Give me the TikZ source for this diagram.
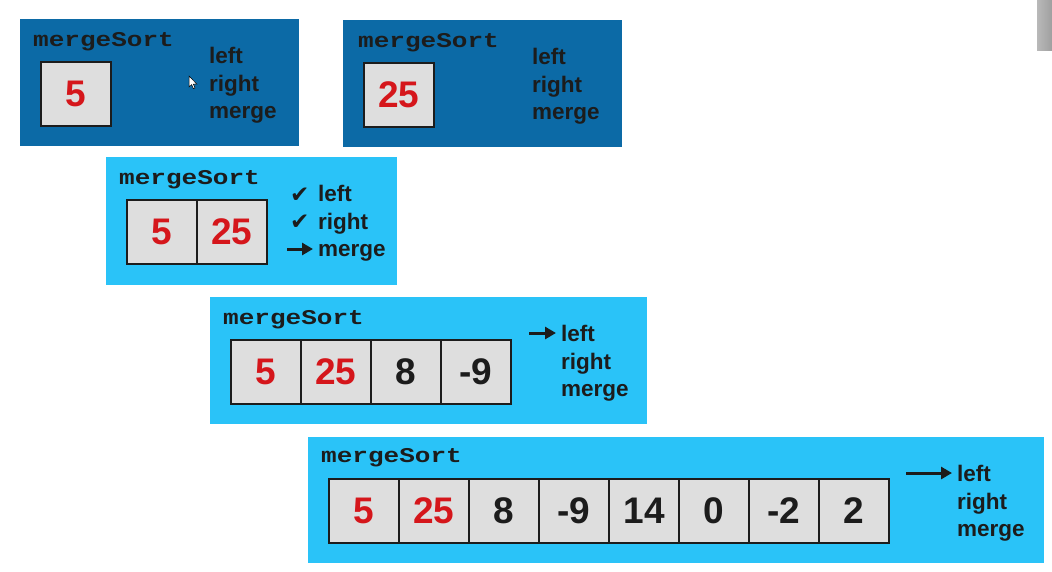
\documentclass[tikz,border=0pt]{standalone}
\usepackage{fontspec}
\setmainfont{Liberation Sans}
\newfontfamily\monof{Liberation Mono}
\newfontfamily\symf{DejaVu Sans}
\usetikzlibrary{arrows.meta}
\definecolor{dkblue}{HTML}{0C6AA6}
\definecolor{ltblue}{HTML}{2AC3F8}
\definecolor{cellgray}{HTML}{DEDEDE}
\definecolor{inkc}{HTML}{1C1C1C}
\definecolor{numred}{HTML}{D5161B}
\tikzset{
  panel/.style={draw=none, inner sep=0pt, outer sep=0pt, anchor=north west},
  darkpanel/.style={panel, fill=dkblue},
  lightpanel/.style={panel, fill=ltblue},
  title/.style={anchor=base west, inner sep=0pt, text=inkc,
    font=\monof\bfseries\fontsize{21}{21}\selectfont},
  cell/.style={draw=inkc, fill=cellgray, line width=2pt, inner sep=0pt, outer sep=0pt,
    minimum width=70pt, minimum height=64pt, text=inkc,
    font=\bfseries\fontsize{37}{37}\selectfont},
  firstcell/.style={cell, anchor=north west},
  nextcell/.style={cell, anchor=west},
  red/.style={text=numred},
  lbl/.style={anchor=base west, inner sep=0pt, text=inkc,
    font=\bfseries\fontsize{22.5}{22.5}\selectfont},
  chk/.style={anchor=base west, inner sep=0pt, text=inkc,
    font=\symf\fontsize{23}{23}\selectfont},
  arr/.style={draw=inkc, line width=3pt, -{Triangle[length=11pt,width=12pt]}}
}
\newcommand{\wide}[1]{\scalebox{1.24}[1]{#1}}
\begin{document}
\begin{tikzpicture}[x=1pt,y=-1pt]
\useasboundingbox (0,0) rectangle (1052,571);
\fill[white] (0,0) rectangle (1052,571);
% gray bar top right
\fill[left color=gray!55, right color=gray!75] (1037,0) rectangle (1052,50);

% ---------- panel 1 ----------
\node[darkpanel, minimum width=279pt, minimum height=127pt] (p1) at (20,19) {};
\node[title] (t1) at (33,46) {\wide{mergeSort}};
\node[firstcell, red] (c1a) at (41,62) {5};
\node[lbl] (l1a) at (209,63.5) {left};
\node[lbl] (l1b) at (209,91) {right};
\node[lbl] (l1c) at (209,118.5) {merge};
% cursor
\draw[fill=white, draw=black, line width=0.5pt, shift={(189,76)}]
  (0,0) -- (0,11) -- (2.6,8.6) -- (4.4,12.6) -- (6,11.9) -- (4.3,8) -- (7.8,8) -- cycle;

% ---------- panel 2 ----------
\node[darkpanel, minimum width=279pt, minimum height=127pt] (p2) at (343,20) {};
\node[title] (t2) at (358,47) {\wide{mergeSort}};
\node[firstcell, red] (c2a) at (364,63) {25};
\node[lbl] (l2a) at (532,64.5) {left};
\node[lbl] (l2b) at (532,92) {right};
\node[lbl] (l2c) at (532,119.5) {merge};

% ---------- panel 3 ----------
\node[lightpanel, minimum width=291pt, minimum height=128pt] (p3) at (106,157) {};
\node[title] (t3) at (119,184) {\wide{mergeSort}};
\node[firstcell, red] (c3a) at (127,200) {5};
\node[nextcell, red] (c3b) at (c3a.east) {25};
\node[chk] (k3a) at (290,202) {✔};
\node[chk] (k3b) at (290,229.5) {✔};
\node[lbl] (l3a) at (318,201.5) {left};
\node[lbl] (l3b) at (318,229) {right};
\node[lbl] (l3c) at (318,256.5) {merge};
\coordinate (a3s) at (287,249);
\coordinate (a3e) at (313,249);
\draw[arr] (a3s) -- (a3e);

% ---------- panel 4 ----------
\node[lightpanel, minimum width=437pt, minimum height=127pt] (p4) at (210,297) {};
\node[title] (t4) at (223,324) {\wide{mergeSort}};
\node[firstcell, red] (c4a) at (231,340) {5};
\node[nextcell, red] (c4b) at (c4a.east) {25};
\node[nextcell] (c4c) at (c4b.east) {8};
\node[nextcell] (c4d) at (c4c.east) {-9};
\node[lbl] (l4a) at (561,341.5) {left};
\node[lbl] (l4b) at (561,369) {right};
\node[lbl] (l4c) at (561,396.5) {merge};
\coordinate (a4s) at (529,333);
\coordinate (a4e) at (556,333);
\draw[arr] (a4s) -- (a4e);

% ---------- panel 5 ----------
\node[lightpanel, minimum width=736pt, minimum height=126pt] (p5) at (308,437) {};
\node[title] (t5) at (321,462) {\wide{mergeSort}};
\node[firstcell, red] (c5a) at (329,479) {5};
\node[nextcell, red] (c5b) at (c5a.east) {25};
\node[nextcell] (c5c) at (c5b.east) {8};
\node[nextcell] (c5d) at (c5c.east) {-9};
\node[nextcell] (c5e) at (c5d.east) {14};
\node[nextcell] (c5f) at (c5e.east) {0};
\node[nextcell] (c5g) at (c5f.east) {-2};
\node[nextcell] (c5h) at (c5g.east) {2};
\node[lbl] (l5a) at (957,481.5) {left};
\node[lbl] (l5b) at (957,509) {right};
\node[lbl] (l5c) at (957,536.5) {merge};
\coordinate (a5s) at (906,473);
\coordinate (a5e) at (952,473);
\draw[arr] (a5s) -- (a5e);
\end{tikzpicture}
\end{document}
